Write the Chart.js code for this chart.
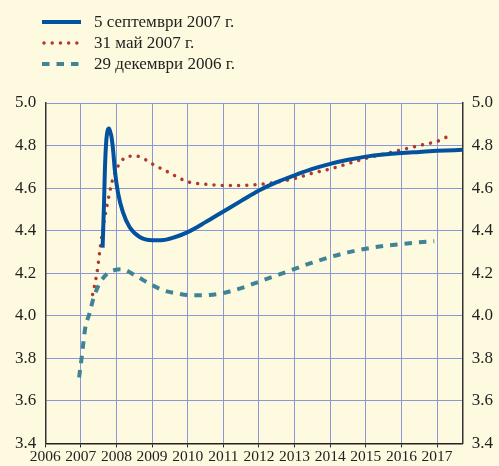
<!DOCTYPE html>
<html>
<head>
<meta charset="utf-8">
<script src="https://cdn.jsdelivr.net/npm/chart.js@4.4.1/dist/chart.umd.min.js"></script>
<style>
  html, body { margin: 0; padding: 0; background: #fefadf; }
  #wrap { position: absolute; left: 0; top: 0; width: 499px; height: 466px; }
  #legend { position: absolute; left: 42px; top: 11px; font-family: "Liberation Serif", serif; font-size: 17px; color: #222; }
  .row { height: 21px; display: flex; align-items: center; }
  .row svg { margin-right: 13px; }
</style>
</head>
<body>
<div id="wrap"><canvas id="myChart"></canvas></div>
<div id="legend"></div>
<script>
// series names (legend)
const seriesNames = ['5 септември 2007 г.', '31 май 2007 г.', '29 декември 2006 г.'];

// 5 September 2007 curve
const sepYears = [2007.61, 2007.65, 2007.675, 2007.71, 2007.75, 2007.79, 2007.83, 2007.86, 2007.91, 2007.95, 2008.04, 2008.18, 2008.37, 2008.65, 2009.0, 2009.25, 2009.65, 2010.0, 2010.5, 2011.0, 2011.5, 2012.0, 2012.5, 2013.0, 2013.5, 2014.0, 2014.5, 2015.0, 2015.5, 2016.0, 2016.5, 2017.0, 2017.72];
const sepValues = [4.32, 4.53, 4.69, 4.815, 4.87, 4.88, 4.86, 4.84, 4.77, 4.69, 4.58, 4.487, 4.416, 4.37, 4.355, 4.355, 4.37, 4.393, 4.44, 4.49, 4.54, 4.589, 4.628, 4.66, 4.69, 4.714, 4.733, 4.748, 4.758, 4.765, 4.77, 4.775, 4.78];

// 31 May 2007 curve
const mayYears = [2007.33, 2007.45, 2007.55, 2007.65, 2007.75, 2007.86, 2007.95, 2008.05, 2008.15, 2008.32, 2008.57, 2008.81, 2009.0, 2009.42, 2010.0, 2010.5, 2011.2, 2012.0, 2012.5, 2013.0, 2013.5, 2014.0, 2014.5, 2015.0, 2015.5, 2016.0, 2016.5, 2017.0, 2017.27];
const mayValues = [4.10, 4.20, 4.33, 4.44, 4.53, 4.62, 4.67, 4.705, 4.73, 4.75, 4.75, 4.734, 4.714, 4.678, 4.63, 4.618, 4.612, 4.617, 4.628, 4.645, 4.67, 4.69, 4.715, 4.74, 4.76, 4.78, 4.80, 4.82, 4.84];

// 29 December 2006 curve
const decYears = [2006.95, 2007.02, 2007.12, 2007.24, 2007.35, 2007.51, 2007.75, 2007.95, 2008.14, 2008.56, 2008.93, 2009.31, 2009.7, 2010.13, 2010.6, 2011.0, 2011.5, 2012.0, 2012.5, 2013.0, 2013.5, 2014.0, 2014.5, 2015.0, 2015.5, 2016.0, 2016.5, 2016.92];
const decValues = [3.71, 3.80, 3.94, 4.01, 4.08, 4.147, 4.20, 4.215, 4.218, 4.186, 4.15, 4.12, 4.105, 4.096, 4.098, 4.107, 4.13, 4.16, 4.19, 4.22, 4.25, 4.276, 4.298, 4.315, 4.328, 4.337, 4.345, 4.35];

// axes
const yearMin = 2006, yearMax = 2017.72;
const valueMin = 3.4, valueMax = 5.0, valueStep = 0.2;

const colors = ['#0352a0', '#b0392f', '#3f8496'];
const dashes = [[], [0.01, 8.2], [7.5, 7]];
const widths = [4, 3.5, 4];

function pts(xs, ys) {
    return xs.map((x, i) => ({x: x, y: ys[i]}));
}

// html legend with line samples
const legendEl = document.getElementById('legend');
seriesNames.forEach((name, i) => {
    const row = document.createElement('div');
    row.className = 'row';
    const da = dashes[i].length ? dashes[i].join(' ') : 'none';
    row.innerHTML = '<svg width="39" height="10"><line x1="' + (i == 1 ? 2 : 0) + '" y1="5" x2="39" y2="5" stroke="' + colors[i] +
        '" stroke-width="' + widths[i] + '" stroke-dasharray="' + da + '" stroke-linecap="' + (i == 1 ? 'round' : 'butt') + '"/></svg><span>' + name + '</span>';
    legendEl.appendChild(row);
});

const serif = "'Liberation Serif', 'Times New Roman', serif";
const gridColor = '#8a98d8';

const ctx = document.getElementById('myChart');
const cht = new Chart(ctx, {
    type: 'line',
    data: {
        datasets: [
            {label: seriesNames[0], data: pts(sepYears, sepValues), borderColor: colors[0], borderWidth: widths[0], borderDash: dashes[0], yAxisID: 'y'},
            {label: seriesNames[1], data: pts(mayYears, mayValues), borderColor: colors[1], borderWidth: widths[1], borderDash: dashes[1], borderCapStyle: 'round', yAxisID: 'y'},
            {label: seriesNames[2], data: pts(decYears, decValues), borderColor: colors[2], borderWidth: widths[2], borderDash: dashes[2], yAxisID: 'y'}
        ]
    },
    options: {
        responsive: true,
        maintainAspectRatio: false,
        animation: false,
        layout: {padding: {top: 103, left: 6, right: -3, bottom: 0}},
        elements: {
            point: {radius: 0},
            line: {cubicInterpolationMode: 'monotone', fill: false}
        },
        plugins: {legend: {display: false}, tooltip: {enabled: false}},
        scales: {
            x: {
                type: 'linear',
                min: yearMin,
                max: yearMax,
                grid: {color: gridColor, lineWidth: 1, tickColor: '#222', tickLength: 4},
                border: {color: '#222', width: 1.5},
                ticks: {
                    stepSize: 1, includeBounds: false, autoSkip: false, maxRotation: 0,
                    color: '#222', padding: 0,
                    font: {family: serif, size: 15.5},
                    callback: (v) => String(v)
                }
            },
            y: {
                position: 'left',
                min: valueMin,
                max: valueMax,
                grid: {color: gridColor, lineWidth: 1, drawTicks: false},
                border: {color: '#333', width: 1.5},
                ticks: {
                    stepSize: valueStep, color: '#222', padding: 9,
                    font: {family: serif, size: 17},
                    callback: (v) => Number(v).toFixed(1)
                }
            },
            y2: {
                position: 'right',
                min: valueMin,
                max: valueMax,
                grid: {drawOnChartArea: false, drawTicks: false},
                border: {color: '#333', width: 1.5},
                ticks: {
                    stepSize: valueStep, color: '#222', padding: 9,
                    font: {family: serif, size: 17},
                    callback: (v) => Number(v).toFixed(1)
                }
            }
        }
    }
});
</script>
</body>
</html>
